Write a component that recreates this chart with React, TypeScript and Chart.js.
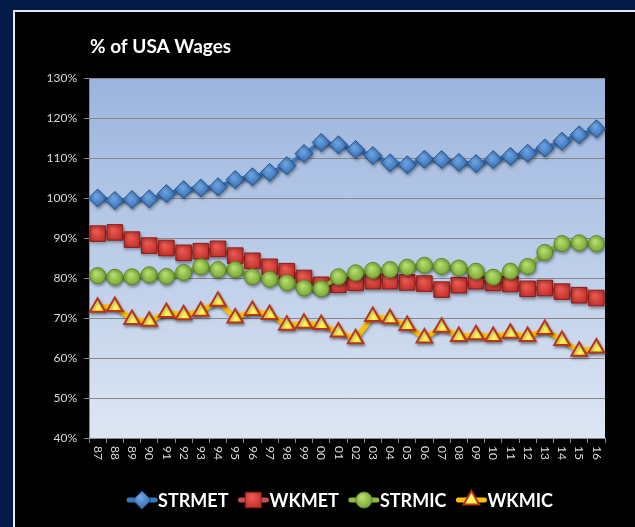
import React, { useEffect, useRef } from "react";
import { Chart, registerables } from "chart.js";

Chart.register(...registerables);

const years = ["87","88","89","90","91","92","93","94","95","96","97","98","99","00","01","02","03","04","05","06","07","08","09","10","11","12","13","14","15","16"];

const strmet = [100.0, 99.4, 99.6, 99.8, 101.1, 102.1, 102.5, 102.8, 104.6, 105.3, 106.4, 108.1, 111.1, 113.9, 113.3, 112.1, 110.6, 108.8, 108.3, 109.7, 109.6, 108.9, 108.6, 109.6, 110.4, 111.2, 112.5, 114.2, 115.8, 117.3];
const wkmet = [91.1, 91.4, 89.6, 88.1, 87.5, 86.3, 86.7, 87.3, 85.6, 84.3, 82.8, 81.7, 80.0, 78.3, 78.3, 78.8, 79.2, 79.2, 78.9, 78.6, 77.1, 78.2, 79.2, 78.8, 78.5, 77.3, 77.5, 76.6, 75.7, 75.0];
const strmic = [80.6, 80.2, 80.3, 80.8, 80.4, 81.4, 82.8, 82.1, 82.1, 80.3, 79.7, 78.8, 77.5, 77.3, 80.3, 81.3, 81.9, 82.1, 82.7, 83.2, 82.9, 82.5, 81.7, 80.2, 81.7, 82.9, 86.4, 88.6, 88.8, 88.6];
const wkmic = [72.7, 72.9, 69.6, 69.2, 71.4, 70.8, 71.7, 74.2, 70.0, 71.9, 70.9, 68.2, 68.7, 68.4, 66.5, 64.8, 70.4, 69.8, 68.1, 65.0, 67.7, 65.4, 65.8, 65.4, 66.2, 65.4, 67.1, 64.4, 61.7, 62.5];

const seriesNames = ["STRMET", "WKMET", "STRMIC", "WKMIC"];
const title = "% of USA Wages";
const yMin = 40;
const yMax = 130;
const yStep = 10;

const W = 635;
const H = 527;

type Style = {
  line: string;
  light: string;
  dark: string;
  border: string;
  shape: string;
  radius: number;
  lineWidth: number;
};

const styles: Style[] = [
  { line: "#3b78c2", light: "#6ea6e6", dark: "#2a62a8", border: "#24558f", shape: "rectRot", radius: 9, lineWidth: 4 },
  { line: "#c0504d", light: "#ea5a52", dark: "#b31f1a", border: "#8e1c18", shape: "rect", radius: 11, lineWidth: 4 },
  { line: "#8fb648", light: "#b8e06e", dark: "#6f9e2c", border: "#5c8a25", shape: "circle", radius: 8, lineWidth: 4 },
  { line: "#ffc000", light: "#ffff80", dark: "#ffe600", border: "#b8341f", shape: "triangle", radius: 9, lineWidth: 5 },
];

function markerFill(st: Style) {
  return (c: any) => {
    const chart = c.chart;
    if (c.type !== "data" || !chart.chartArea || !chart.scales.x) return st.dark;
    const x = chart.scales.x.getPixelForValue(c.dataIndex);
    const y = chart.scales.y.getPixelForValue(c.raw);
    const g = chart.ctx.createRadialGradient(x - 2, y - 3, 1, x, y, st.radius + 2);
    g.addColorStop(0, st.light);
    g.addColorStop(1, st.dark);
    return g;
  };
}

function drawShape(ctx: CanvasRenderingContext2D, shape: string, x: number, y: number, r: number) {
  ctx.beginPath();
  if (shape === "rectRot") {
    ctx.moveTo(x - r, y);
    ctx.lineTo(x, y - r);
    ctx.lineTo(x + r, y);
    ctx.lineTo(x, y + r);
    ctx.closePath();
  } else if (shape === "rect") {
    const s = Math.SQRT1_2 * r;
    ctx.rect(x - s, y - s, 2 * s, 2 * s);
  } else if (shape === "circle") {
    ctx.arc(x, y, r, 0, Math.PI * 2);
  } else {
    for (let i = 0; i < 3; i++) {
      const a = (i * 2 * Math.PI) / 3;
      const px = x + Math.sin(a) * r;
      const py = y - Math.cos(a) * r;
      if (i === 0) ctx.moveTo(px, py);
      else ctx.lineTo(px, py);
    }
    ctx.closePath();
  }
}

const framePlugin = {
  id: "frame",
  beforeDraw(chart: any) {
    const ctx = chart.ctx as CanvasRenderingContext2D;
    const a = chart.chartArea;
    ctx.save();
    ctx.fillStyle = "#031a46";
    ctx.fillRect(0, 0, W, H);
    ctx.fillStyle = "#000000";
    ctx.fillRect(13, 10, W - 13, H - 10);
    ctx.fillStyle = "#e6eaf0";
    ctx.fillRect(13, 10, W - 13, 2);
    ctx.fillRect(13, 10, 2, H - 10);
    const g = ctx.createLinearGradient(0, a.top, 0, a.bottom);
    g.addColorStop(0, "#9bb4de");
    g.addColorStop(1, "#dde6f3");
    ctx.fillStyle = g;
    ctx.fillRect(a.left, a.top, a.right - a.left, a.bottom - a.top);
    ctx.restore();
  },
  beforeDatasetsDraw(chart: any) {
    const ctx = chart.ctx as CanvasRenderingContext2D;
    ctx.save();
    ctx.shadowColor = "rgba(0,0,0,0.35)";
    ctx.shadowOffsetX = 1;
    ctx.shadowOffsetY = 2;
    ctx.shadowBlur = 3;
  },
  afterDatasetsDraw(chart: any) {
    chart.ctx.restore();
  },
  afterDraw(chart: any) {
    const ctx = chart.ctx as CanvasRenderingContext2D;
    const xs = chart.scales.x;
    const a = chart.chartArea;
    ctx.save();
    // x labels rotated clockwise
    ctx.fillStyle = "#d9d9d9";
    ctx.font = "12px Lato";
    ctx.textAlign = "left";
    ctx.textBaseline = "middle";
    years.forEach((lab, i) => {
      const x = xs.getPixelForValue(i);
      ctx.save();
      ctx.translate(x, a.bottom + 8);
      ctx.rotate(Math.PI / 2);
      ctx.fillText(lab, 0, 0);
      ctx.restore();
    });
    // title
    ctx.fillStyle = "#ffffff";
    ctx.font = "bold 19px Lato";
    ctx.textBaseline = "middle";
    ctx.fillText(title, 90, 47);
    // legend
    ctx.font = "bold 18px Lato";
    const iconW = 30;
    const gapText = 1;
    const gapItem = 10;
    const widths = seriesNames.map((n) => ctx.measureText(n).width);
    const total = widths.reduce((s, w) => s + iconW + gapText + w, 0) + gapItem * (seriesNames.length - 1);
    let x = 340 - total / 2;
    const y = 500;
    seriesNames.forEach((n, i) => {
      const st = styles[i];
      ctx.strokeStyle = st.line;
      ctx.lineWidth = 5;
      ctx.lineCap = "round";
      ctx.beginPath();
      ctx.moveTo(x + 2, y);
      ctx.lineTo(x + iconW - 2, y);
      ctx.stroke();
      const cx = x + iconW / 2;
      const g = ctx.createRadialGradient(cx - 2, y - 3, 1, cx, y, st.radius + 2);
      g.addColorStop(0, st.light);
      g.addColorStop(1, st.dark);
      ctx.fillStyle = g;
      ctx.strokeStyle = st.border;
      ctx.lineWidth = st.shape === "triangle" ? 2 : 1;
      drawShape(ctx, st.shape, cx, y, st.radius);
      ctx.fill();
      ctx.stroke();
      ctx.fillStyle = "#ffffff";
      ctx.fillText(n, x + iconW + gapText, y + 1);
      x += iconW + gapText + widths[i] + gapItem;
    });
    ctx.restore();
  },
};

export default function App() {
  const ref = useRef<HTMLCanvasElement | null>(null);
  useEffect(() => {
    if (!ref.current) return;
    const data = [strmet, wkmet, strmic, wkmic];
    const chart = new Chart(ref.current, {
      type: "line",
      data: {
        labels: years,
        datasets: data.map((d, i) => {
          const st = styles[i];
          return {
            label: seriesNames[i],
            data: d,
            order: 4 - i,
            borderColor: st.line,
            borderWidth: st.lineWidth,
            pointStyle: st.shape as any,
            pointRadius: st.radius,
            pointHoverRadius: st.radius,
            pointBackgroundColor: markerFill(st) as any,
            pointBorderColor: st.border,
            pointBorderWidth: st.shape === "triangle" ? 2 : 1,
            tension: 0,
            clip: false as any,
          };
        }),
      },
      options: {
        responsive: false,
        animation: false,
        devicePixelRatio: 1,
        layout: { padding: { left: 0, right: 30, top: 78, bottom: 39 } },
        plugins: {
          legend: { display: false },
          title: { display: false },
          tooltip: { enabled: false },
        },
        scales: {
          x: {
            type: "category",
            offset: true,
            grid: {
              display: true,
              offset: true,
              drawOnChartArea: false,
              drawTicks: true,
              tickLength: 5,
              color: "#8a8a8a",
            },
            border: { display: true, color: "#8a8a8a", width: 1 },
            ticks: { display: false },
            afterFit: (s: any) => {
              s.height = 50;
            },
          },
          y: {
            min: yMin,
            max: yMax,
            grid: {
              color: "#878787",
              lineWidth: 1,
              drawTicks: true,
              tickLength: 5,
            },
            border: { display: true, color: "#8a8a8a", width: 1 },
            ticks: {
              stepSize: yStep,
              color: "#d9d9d9",
              font: { family: "Lato", size: 12 },
              padding: 7,
              callback: (v: any) => `${v}%`,
            },
            afterFit: (s: any) => {
              s.width = 89;
            },
          },
        },
      },
      plugins: [framePlugin],
    });
    return () => chart.destroy();
  }, []);
  return (
    <div style={{ position: "fixed", left: 0, top: 0, width: W, height: H }}>
      <canvas ref={ref} width={W} height={H} style={{ display: "block", width: W, height: H }} />
    </div>
  );
}
